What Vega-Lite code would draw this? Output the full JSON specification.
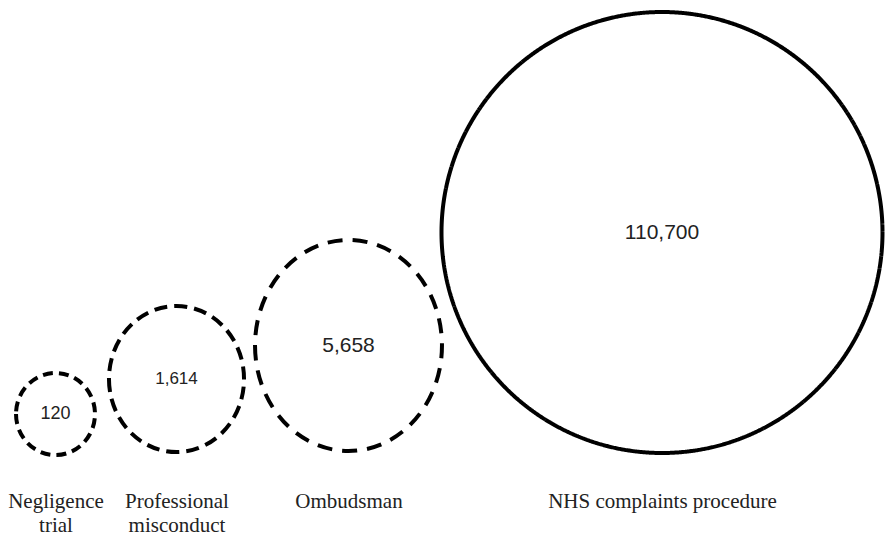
{
  "$schema": "https://vega.github.io/schema/vega-lite/v6.json",
  "width": 887,
  "height": 480,
  "autosize": {"type": "none"},
  "padding": {"left": 0, "top": 0, "right": 0, "bottom": 56},
  "background": "white",
  "config": {"view": {"stroke": null}},
  "data": {
    "values": [
      {"name": "Negligence trial", "value": 120},
      {"name": "Professional misconduct", "value": 1614},
      {"name": "Ombudsman", "value": 5658},
      {"name": "NHS complaints procedure", "value": 110700}
    ]
  },
  "encoding": {
    "x": {
      "field": "value",
      "type": "quantitative",
      "scale": {"domain": [120, 1614, 5658, 110700], "range": [55.5, 176.5, 348.5, 662], "zero": false, "nice": false},
      "axis": {
        "title": null,
        "values": [120, 1614, 5658, 110700],
        "domain": false,
        "ticks": false,
        "grid": false,
        "labelFlush": false,
        "labelOverlap": false,
        "labelBound": false,
        "labelLimit": 0,
        "labelAlign": "center",
        "labelBaseline": "alphabetic",
        "labelPadding": 27,
        "labelFont": "Liberation Serif",
        "labelFontSize": 21,
        "labelLineHeight": 24,
        "labelColor": "#222222",
        "labelExpr": "datum.value == 120 ? ['Negligence', 'trial'] : datum.value == 1614 ? ['Professional', 'misconduct'] : datum.value == 5658 ? 'Ombudsman' : 'NHS complaints procedure'"
      }
    },
    "y": {
      "field": "value",
      "type": "quantitative",
      "scale": {"domain": [120, 1614, 5658, 110700], "range": [414, 379, 345.5, 232.5], "zero": false, "nice": false},
      "axis": null
    }
  },
  "layer": [
    {
      "mark": {"type": "point", "filled": false, "color": "black", "stroke": "black", "strokeWidth": 4, "opacity": 1},
      "encoding": {
        "size": {
          "field": "value",
          "type": "quantitative",
          "scale": {"domain": [120, 1614, 5658, 110700], "range": [6724, 21316, 44521, 194481], "zero": false, "nice": false},
          "legend": null
        },
        "shape": {
          "field": "name",
          "type": "nominal",
          "scale": {
            "domain": ["Negligence trial", "Professional misconduct", "Ombudsman", "NHS complaints procedure"],
            "range": [
              "M-0.963,0A0.963,1,0,1,0,0.963,0A0.963,1,0,1,0,-0.963,0Z",
              "M-0.925,0A0.925,1,0,1,0,0.925,0A0.925,1,0,1,0,-0.925,0Z",
              "M-0.886,0A0.886,1,0,1,0,0.886,0A0.886,1,0,1,0,-0.886,0Z",
              "circle"
            ]
          },
          "legend": null
        },
        "strokeDash": {
          "field": "name",
          "type": "nominal",
          "scale": {
            "domain": ["Negligence trial", "Professional misconduct", "Ombudsman", "NHS complaints procedure"],
            "range": [[10, 6], [13, 7], [15, 10], [1, 0]]
          },
          "legend": null
        }
      }
    },
    {
      "mark": {"type": "text", "font": "Liberation Sans", "color": "#222222", "align": "center", "baseline": "middle"},
      "encoding": {
        "text": {"field": "value", "type": "quantitative", "format": ","},
        "size": {
          "field": "value",
          "type": "quantitative",
          "scale": {"domain": [120, 1614, 5658, 110700], "range": [18, 17, 21, 21], "zero": false, "nice": false},
          "legend": null
        }
      }
    }
  ],
  "resolve": {"scale": {"size": "independent"}}
}
